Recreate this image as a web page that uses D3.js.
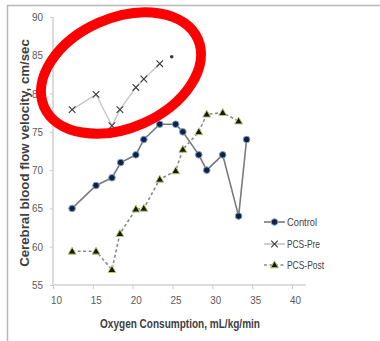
<!DOCTYPE html>
<html>
<head>
<meta charset="utf-8">
<script src="https://cdn.jsdelivr.net/npm/d3@7"></script>
<style>
  body { margin: 0; background: #fff; }
  svg { display: block; font-family: "Liberation Sans", Arial, sans-serif; }
</style>
</head>
<body>
<svg id="chart" width="380" height="341"></svg>
<script>
// Series values
const controlX = [12.4, 15.4, 17.4, 18.5, 20.4, 21.4, 23.4, 25.4, 26.3, 28.3, 29.3, 31.3, 33.3, 34.3];
const controlY = [65, 68, 69, 71, 72, 74, 76, 76, 75, 72, 70, 72, 64, 74];

const preX = [12.4, 15.4, 17.4, 18.4, 20.4, 21.4, 23.4];
const preY = [77.9, 79.9, 75.8, 77.9, 80.8, 81.9, 83.9];
const preLoneX = [24.9];   // unconnected dot at the end of the PCS-Pre series
const preLoneY = [84.8];

const postX = [12.4, 15.4, 17.4, 18.4, 20.4, 21.4, 23.4, 25.4, 26.3, 28.3, 29.3, 31.3, 33.3];
const postY = [59.4, 59.4, 57, 61.7, 64.9, 65, 68.8, 69.9, 72.7, 75, 77.3, 77.5, 76.4];

const xTicks = [10, 15, 20, 25, 30, 35, 40];
const yTicks = [55, 60, 65, 70, 75, 80, 85, 90];
const seriesNames = ['Control', 'PCS-Pre', 'PCS-Post'];

const svg = d3.select('#chart');

const x = d3.scaleLinear().domain([10, 40]).range([53, 292]);
const y = d3.scaleLinear().domain([55, 90]).range([285, 17]);

// fit a text to a target width along its baseline (narrow Calibri look)
function squeeze(sel, w) {
  sel.each(function () {
    const n = this.getComputedTextLength();
    const prev = this.getAttribute('transform') || '';
    if (n > 0) d3.select(this).attr('transform', `${prev} scale(${w / n},1)`);
  });
}

// outer frame (top + left edges visible)
svg.append('path')
    .attr('d', 'M7.5,341 V5.5 H380')
    .attr('fill', 'none')
    .attr('stroke', '#b8b8b8')
    .attr('stroke-width', 1.5);

// axes
const xAxis = svg.append('g')
    .attr('transform', `translate(0,${y(55)})`)
    .call(d3.axisBottom(x).tickValues(xTicks).tickSize(4).tickSizeOuter(0).tickPadding(7));
xAxis.select('.domain').remove();
xAxis.append('line')
    .attr('x1', x(10)).attr('x2', 306)
    .attr('stroke', '#d0d0d0').attr('stroke-width', 1.5);
xAxis.selectAll('.tick line').attr('stroke', '#c8c8c8');
xAxis.selectAll('.tick text')
    .attr('dx', 3)
    .attr('fill', '#595959')
    .attr('textLength', 11).attr('lengthAdjust', 'spacingAndGlyphs')
    .style('font-size', '11px');

const yAxis = svg.append('g')
    .attr('transform', `translate(${x(10)},0)`)
    .call(d3.axisLeft(y).tickValues(yTicks).tickSize(3).tickSizeOuter(0).tickPadding(7));
yAxis.select('.domain').remove();
yAxis.append('line')
    .attr('y1', y(90)).attr('y2', y(55))
    .attr('stroke', '#d0d0d0').attr('stroke-width', 1.5);
yAxis.selectAll('.tick line').attr('stroke', '#c8c8c8');
yAxis.selectAll('.tick text')
    .attr('fill', '#595959')
    .attr('textLength', 11).attr('lengthAdjust', 'spacingAndGlyphs')
    .style('font-size', '11px');

// axis titles
svg.append('text')
    .attr('transform', `translate(29,153) rotate(-90)`)
    .attr('text-anchor', 'middle')
    .attr('fill', '#404040')
    .style('font-size', '12.5px')
    .style('font-weight', 'bold')
    .text('Cerebral blood flow velocity, cm/sec')
    .call(squeeze, 228);

svg.append('text')
    .attr('transform', 'translate(180,328)')
    .attr('text-anchor', 'middle')
    .attr('fill', '#404040')
    .style('font-size', '12.5px')
    .style('font-weight', 'bold')
    .text('Oxygen Consumption, mL/kg/min')
    .call(squeeze, 160);

const line = d3.line().x(d => x(d[0])).y(d => y(d[1]));
const zipXY = (xs, ys) => xs.map((v, i) => [v, ys[i]]);

const control = zipXY(controlX, controlY);
const pre = zipXY(preX, preY);
const post = zipXY(postX, postY);

// lines
svg.append('path').datum(pre)
    .attr('d', line).attr('fill', 'none')
    .attr('stroke', '#c4c4c4').attr('stroke-width', 1.3);
svg.append('path').datum(control)
    .attr('d', line).attr('fill', 'none')
    .attr('stroke', '#7a7a7a').attr('stroke-width', 1.6);
svg.append('path').datum(post)
    .attr('d', line).attr('fill', 'none')
    .attr('stroke', '#8a8a8a').attr('stroke-width', 1.6)
    .attr('stroke-dasharray', '3,2.5');

const cross = d3.symbol().type(d3.symbolX).size(30);
const tri = d3.symbol().type(d3.symbolTriangle).size(28);

function drawCircle(g, cx, cy) {
  g.append('circle').attr('cx', cx).attr('cy', cy).attr('r', 3.3)
      .attr('fill', '#14213d').attr('stroke', '#7aa3d6').attr('stroke-width', 1);
}
function drawCross(g, cx, cy) {
  g.append('path').attr('d', cross).attr('transform', `translate(${cx},${cy})`)
      .attr('fill', 'none').attr('stroke', '#3a3a3a').attr('stroke-width', 1.1);
}
function drawTri(g, cx, cy) {
  g.append('path').attr('d', tri).attr('transform', `translate(${cx},${cy + 0.5})`)
      .attr('fill', '#1a1a0a').attr('stroke', '#b5cf78').attr('stroke-width', 1);
}

const marks = svg.append('g');
pre.forEach(d => drawCross(marks, x(d[0]), y(d[1])));
preLoneX.forEach((v, i) => {
  marks.append('circle').attr('cx', x(v)).attr('cy', y(preLoneY[i])).attr('r', 1.8).attr('fill', '#3a3a3a');
});
control.forEach(d => drawCircle(marks, x(d[0]), y(d[1])));
post.forEach(d => drawTri(marks, x(d[0]), y(d[1])));

// legend
const legend = svg.append('g');
const legendY = [222, 244, 265];
const legendW = [30, 33, 37];
const legendStyles = [
  {stroke: '#7a7a7a', dash: null, draw: drawCircle},
  {stroke: '#c4c4c4', dash: null, draw: drawCross},
  {stroke: '#8a8a8a', dash: '3,2.5', draw: drawTri}
];
seriesNames.forEach((name, i) => {
  const st = legendStyles[i];
  legend.append('line')
      .attr('x1', 264).attr('x2', 285).attr('y1', legendY[i]).attr('y2', legendY[i])
      .attr('stroke', st.stroke).attr('stroke-width', 1.6)
      .attr('stroke-dasharray', st.dash);
  st.draw(legend, 274.5, legendY[i]);
  legend.append('text')
      .attr('x', 287).attr('y', legendY[i]).attr('dy', '0.35em')
      .attr('fill', '#404040')
      .attr('textLength', legendW[i]).attr('lengthAdjust', 'spacingAndGlyphs')
      .style('font-size', '11.5px')
      .text(name);
});

// red annotation ellipse
svg.append('ellipse')
    .attr('cx', 121).attr('cy', 73)
    .attr('rx', 84).attr('ry', 55)
    .attr('transform', 'rotate(-23.8,121,73)')
    .attr('fill', 'none')
    .attr('stroke', '#ff0000')
    .attr('stroke-width', 10);
</script>
</body>
</html>
